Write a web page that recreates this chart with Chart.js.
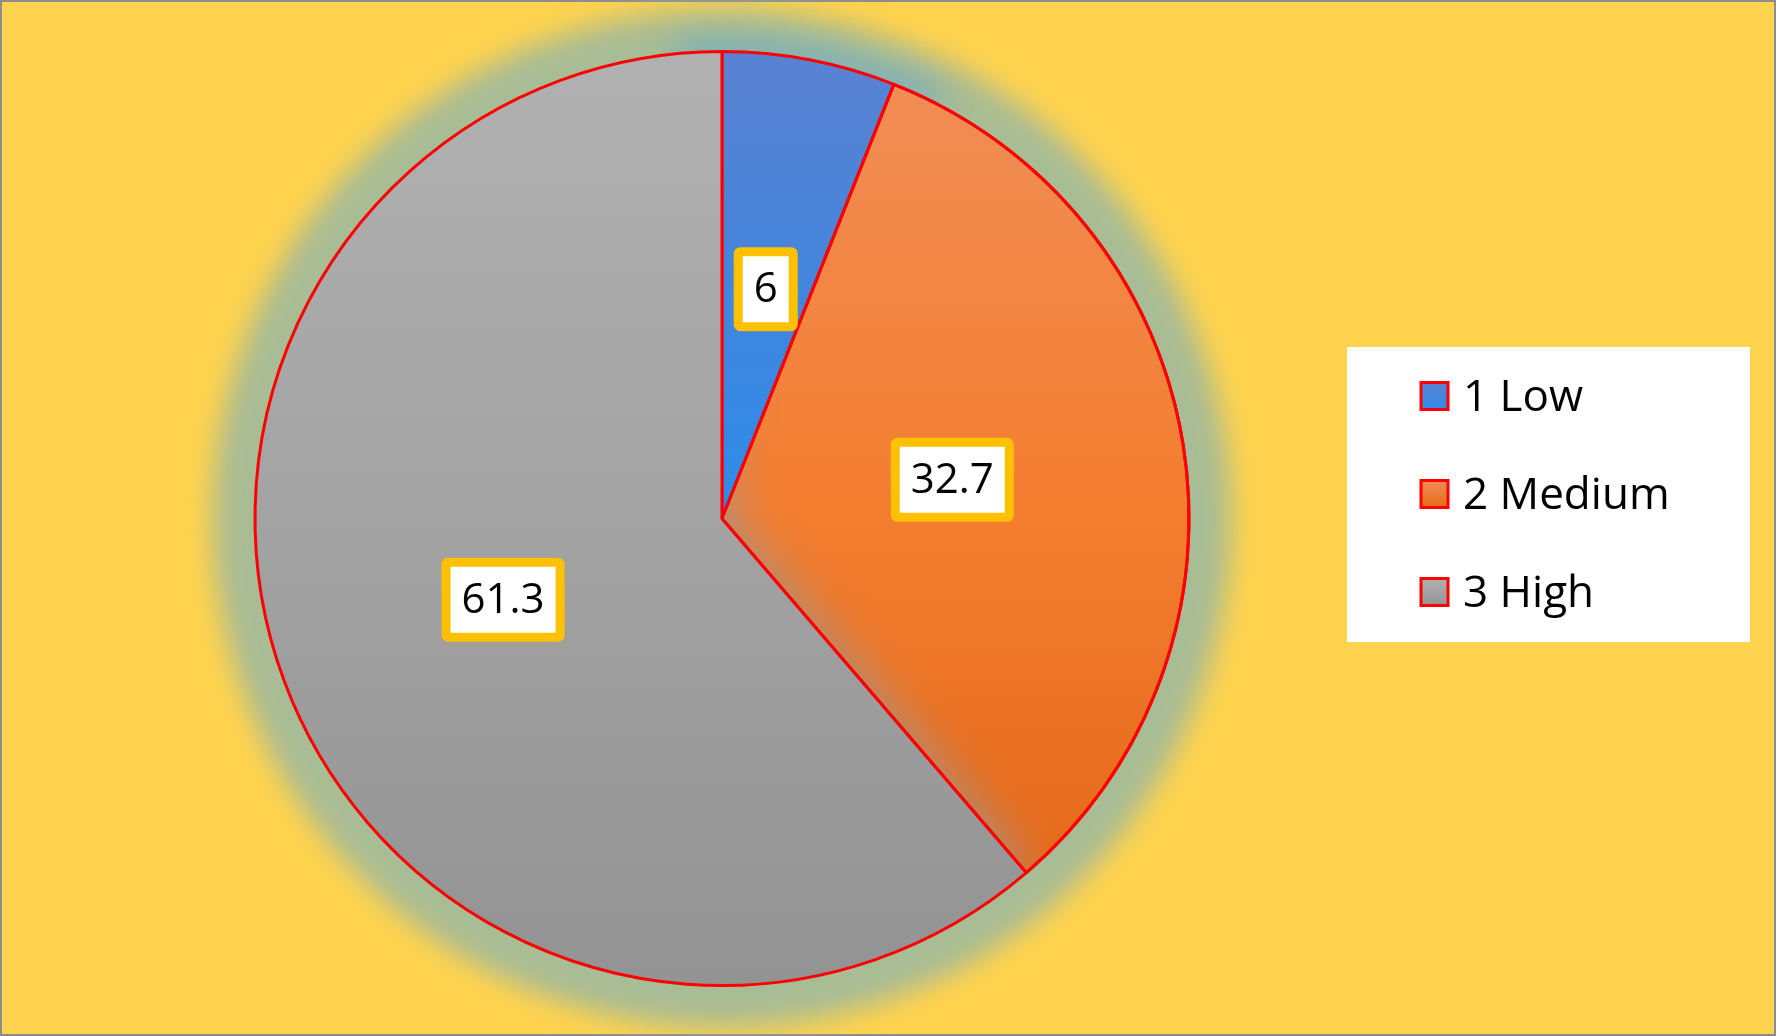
<!DOCTYPE html>
<html>
<head>
<meta charset="utf-8">
<script src="https://cdn.jsdelivr.net/npm/chart.js@4.4.0/dist/chart.umd.min.js"></script>
<style>
    html, body { margin: 0; padding: 0; background: #FFD34D; }
    #chartPie { display: block; }
</style>
</head>
<body>
<canvas id="chartPie" width="1776" height="1036"></canvas>
<script>
// data
const categories = ['1 Low', '2 Medium', '3 High'];
const values = [6, 32.7, 61.3];
const labelTexts = ['6', '32.7', '61.3'];
const colorsTop = ['#5B82D2', '#F08D55', '#B1B1B1'];
const colorsMid = ['#4286DC', '#F47F32', '#A3A3A3'];
const colorsBottom = ['#2E8CEC', '#E66A1A', '#939393'];

const PIE_RADIUS = 467;
const FONT = '"Open Sans", "Noto Sans", sans-serif';

// rentang y tiap potongan supaya gradien vertikal pas di potongannya
function sliceYRange(i, cy, r) {
    const total = values.reduce((a, b) => a + b, 0);
    let before = 0;
    for (let k = 0; k < i; k++) before += values[k];
    const a0 = before / total * Math.PI * 2 - Math.PI / 2;
    const a1 = (before + values[i]) / total * Math.PI * 2 - Math.PI / 2;
    const ys = [cy, cy + r * Math.sin(a0), cy + r * Math.sin(a1)];
    [-Math.PI / 2, Math.PI / 2, Math.PI * 1.5].forEach(function (k) {
        if (k >= a0 && k <= a1) ys.push(cy + r * Math.sin(k));
    });
    return [Math.min.apply(null, ys), Math.max.apply(null, ys)];
}

function sliceGradient(context) {
    const chart = context.chart;
    const area = chart.chartArea;
    const i = context.dataIndex;
    if (!area) return colorsTop[i];
    const cy = (area.top + area.bottom) / 2;
    const range = sliceYRange(i, cy, PIE_RADIUS);
    const g = chart.ctx.createLinearGradient(0, range[0], 0, range[1]);
    g.addColorStop(0, colorsTop[i]);
    g.addColorStop(0.5, colorsMid[i]);
    g.addColorStop(1, colorsBottom[i]);
    return g;
}

function wedgePath(ctx, arc, dx) {
    ctx.beginPath();
    ctx.moveTo(arc.x + dx, arc.y);
    ctx.arc(arc.x + dx, arc.y, arc.outerRadius, arc.startAngle, arc.endAngle);
    ctx.closePath();
}

const backgroundPlugin = {
    id: 'background',
    beforeDraw(chart) {
        const ctx = chart.ctx;
        ctx.save();
        ctx.fillStyle = '#FFD34D';
        ctx.fillRect(0, 0, chart.width, chart.height);
        ctx.strokeStyle = '#8C8C8C';
        ctx.lineWidth = 2;
        ctx.strokeRect(1, 1, chart.width - 2, chart.height - 2);
        ctx.restore();
    }
};

// cahaya lembut di sekeliling pie (pakai bayangan saja, bentuknya digeser keluar kanvas)
const glowPlugin = {
    id: 'glow',
    beforeDatasetsDraw(chart) {
        const arc = chart.getDatasetMeta(0).data[0];
        if (!arc) return;
        const ctx = chart.ctx;
        const shift = 5000;
        ctx.save();
        ctx.shadowOffsetX = shift;
        ctx.shadowBlur = 28;
        ctx.shadowColor = 'rgb(168,188,150)';
        ctx.fillStyle = '#000';
        ctx.beginPath();
        ctx.arc(arc.x - shift, arc.y, arc.outerRadius + 42, 0, Math.PI * 2);
        ctx.fill();
        // sedikit lebih biru di dekat potongan biru
        ctx.shadowBlur = 30;
        ctx.shadowColor = 'rgba(100,170,205,0.6)';
        ctx.beginPath();
        ctx.arc(arc.x - shift, arc.y, arc.outerRadius + 14, arc.startAngle - 0.1, arc.endAngle + 0.1);
        ctx.lineTo(arc.x - shift, arc.y);
        ctx.closePath();
        ctx.fill();
        ctx.restore();
    }
};

// abu-abu yang meluber ke potongan oranye, lalu garis merahnya digambar ulang
const bleedPlugin = {
    id: 'bleed',
    afterDatasetsDraw(chart) {
        const arcs = chart.getDatasetMeta(0).data;
        if (arcs.length < 3) return;
        const ctx = chart.ctx;
        const shift = 5000;
        ctx.save();
        wedgePath(ctx, arcs[1], 0);
        ctx.clip();
        ctx.shadowOffsetX = shift;
        ctx.shadowBlur = 52;
        ctx.shadowColor = 'rgb(156,150,148)';
        ctx.fillStyle = '#000';
        wedgePath(ctx, arcs[2], -shift);
        ctx.fill();
        ctx.restore();

        ctx.save();
        ctx.strokeStyle = '#FF0000';
        ctx.lineWidth = 3;
        ctx.lineJoin = 'bevel';
        wedgePath(ctx, arcs[1], 0);
        ctx.stroke();
        ctx.restore();
    }
};

const boxLabelPlugin = {
    id: 'boxLabels',
    afterDatasetsDraw(chart) {
        const ctx = chart.ctx;
        const border = 9;
        const pad = 11;
        const h = 84;
        ctx.save();
        ctx.font = '42px ' + FONT;
        ctx.textAlign = 'center';
        ctx.textBaseline = 'middle';
        chart.getDatasetMeta(0).data.forEach(function (arc, i) {
            const p = arc.getCenterPoint();
            const tw = ctx.measureText(labelTexts[i]).width;
            const w = tw + pad * 2 + border * 2;
            ctx.beginPath();
            ctx.roundRect(p.x - w / 2 + border / 2, p.y - h / 2 + border / 2, w - border, h - border, 2);
            ctx.fillStyle = '#FFFFFF';
            ctx.fill();
            ctx.lineWidth = border;
            ctx.strokeStyle = '#FFC000';
            ctx.stroke();
            ctx.fillStyle = '#000000';
            ctx.fillText(labelTexts[i], p.x, p.y + 1);
        });
        ctx.restore();
    }
};

const legendBoxPlugin = {
    id: 'legendBox',
    afterDraw(chart) {
        const ctx = chart.ctx;
        ctx.save();
        ctx.fillStyle = '#FFFFFF';
        ctx.fillRect(1347, 347, 403, 295);
        ctx.font = '44px ' + FONT;
        ctx.textBaseline = 'middle';
        categories.forEach(function (name, i) {
            const y = 396 + i * 98;
            const g = ctx.createLinearGradient(0, y - 14, 0, y + 14);
            g.addColorStop(0, colorsTop[i]);
            g.addColorStop(1, colorsBottom[i]);
            ctx.fillStyle = g;
            ctx.fillRect(1421, y - 13.5, 27, 27);
            ctx.strokeStyle = '#FF0000';
            ctx.lineWidth = 3;
            ctx.strokeRect(1421, y - 13.5, 27, 27);
            ctx.fillStyle = '#000000';
            ctx.fillText(name, 1463, y + 2);
        });
        ctx.restore();
    }
};

new Chart(document.getElementById('chartPie'), {
    type: 'pie',
    data: {
        labels: categories,
        datasets: [{
            data: values,
            backgroundColor: sliceGradient,
            borderColor: '#FF0000',
            borderWidth: 3
        }]
    },
    options: {
        responsive: false,
        animation: false,
        radius: PIE_RADIUS,
        layout: { padding: { left: 255, right: 587, top: 51, bottom: 50 } },
        plugins: {
            legend: { display: false },
            tooltip: { enabled: false }
        }
    },
    plugins: [backgroundPlugin, glowPlugin, bleedPlugin, boxLabelPlugin, legendBoxPlugin]
});
</script>
</body>
</html>
